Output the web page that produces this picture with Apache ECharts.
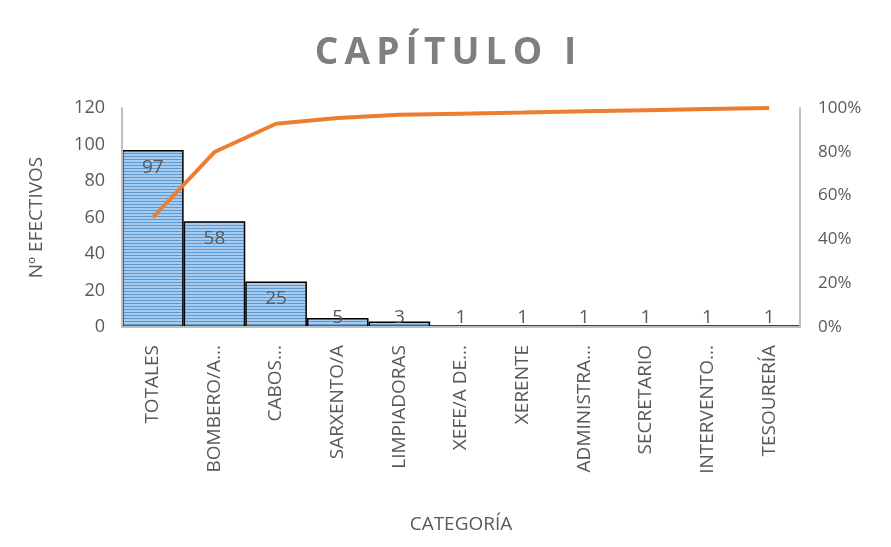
<!DOCTYPE html>
<html>
<head>
<meta charset="utf-8">
<script src="https://cdn.jsdelivr.net/npm/echarts@6/dist/echarts.min.js"></script>
<style>
	html, body { margin: 0; padding: 0; background: #fff; }
	#chart { width: 891px; height: 547px; }
</style>
</head>
<body>
<div id="chart"></div>
<script>
/** Pareto: efectivos por categoría */
let categorias = ["TOTALES", "BOMBERO/A...", "CABOS...", "SARXENTO/A", "LIMPIADORAS", "XEFE/A DE...", "XERENTE", "ADMINISTRA...", "SECRETARIO", "INTERVENTO...", "TESOURERÍA"];
let efectivos = [97, 58, 25, 5, 3, 1, 1, 1, 1, 1, 1];
let acumulado = [50, 79.9, 92.8, 95.4, 96.9, 97.4, 97.9, 98.5, 99, 99.5, 100];

// trama de rayas horizontales para las barras
let trama = document.createElement("canvas");
trama.width = 4;
trama.height = 3;
let ctx = trama.getContext("2d");
ctx.fillStyle = "#a9cbee";
ctx.fillRect(0, 0, 4, 3);
ctx.fillStyle = "#5b9bd5";
ctx.fillRect(0, 0, 4, 1);

let gris = "#595959";
let chart = echarts.init(document.getElementById("chart"));
let option = {
	backgroundColor: "#fff",
	title: {
		text: "C\u2009A\u2009P\u2009Í\u2009T\u2009U\u2009L\u2009O\u2009 \u2009I",
		left: "center",
		top: 30,
		textStyle: {
			color: "#7f7f7f",
			fontSize: 37,
			fontWeight: "bold",
			fontFamily: "Open Sans",
		},
	},
	grid: {
		left: 122,
		right: 91,
		top: 108,
		bottom: 220,
	},
	xAxis: {
		type: "category",
		data: categorias,
		name: "CATEGORÍA",
		nameLocation: "middle",
		nameGap: 188,
		nameTextStyle: { color: gris, fontSize: 19, fontFamily: "Open Sans" },
		axisLine: { lineStyle: { color: "#bfbfbf", width: 2 } },
		axisTick: { show: false },
		axisLabel: {
			rotate: 90,
			interval: 0,
			margin: 18,
			color: gris,
			fontSize: 19,
			fontFamily: "Open Sans",
		},
	},
	yAxis: [
		{
			type: "value",
			min: 0,
			max: 120,
			interval: 20,
			name: "Nº EFECTIVOS",
			nameLocation: "middle",
			nameGap: 76,
			nameTextStyle: { color: gris, fontSize: 19, fontFamily: "Open Sans" },
			axisLine: { show: true, lineStyle: { color: "#bfbfbf", width: 2 } },
			axisTick: { show: false },
			splitLine: { show: false },
			axisLabel: { color: gris, fontSize: 18, margin: 17, fontFamily: "Open Sans" },
		},
		{
			type: "value",
			min: 0,
			max: 100,
			interval: 20,
			axisLine: { show: true, lineStyle: { color: "#bfbfbf", width: 2 } },
			axisTick: { show: false },
			splitLine: { show: false },
			axisLabel: { color: gris, fontSize: 17, margin: 18, fontFamily: "Open Sans", formatter: "{value}%" },
		},
	],
	series: [
		{
			type: "bar",
			barCategoryGap: 0,
			data: efectivos.map(function (v) {
				return {
					value: v,
					label: v >= 10 ? { position: "insideTop", distance: 8 } : { position: "insideBottom", distance: 0 },
				};
			}),
			itemStyle: {
				color: { image: trama, repeat: "repeat" },
				borderColor: "#000",
				borderWidth: 1.5,
			},
			label: {
				show: true,
				color: gris,
				fontSize: 19,
				fontFamily: "Open Sans",
			},
			z: -1, // el eje queda por encima de las barras pequeñas
		},
		{
			type: "line",
			yAxisIndex: 1,
			data: acumulado,
			symbol: "none",
			lineStyle: { color: "#ed7d31", width: 4 },
			z: 3,
		},
	],
};
chart.setOption(option);
</script>
</body>
</html>
